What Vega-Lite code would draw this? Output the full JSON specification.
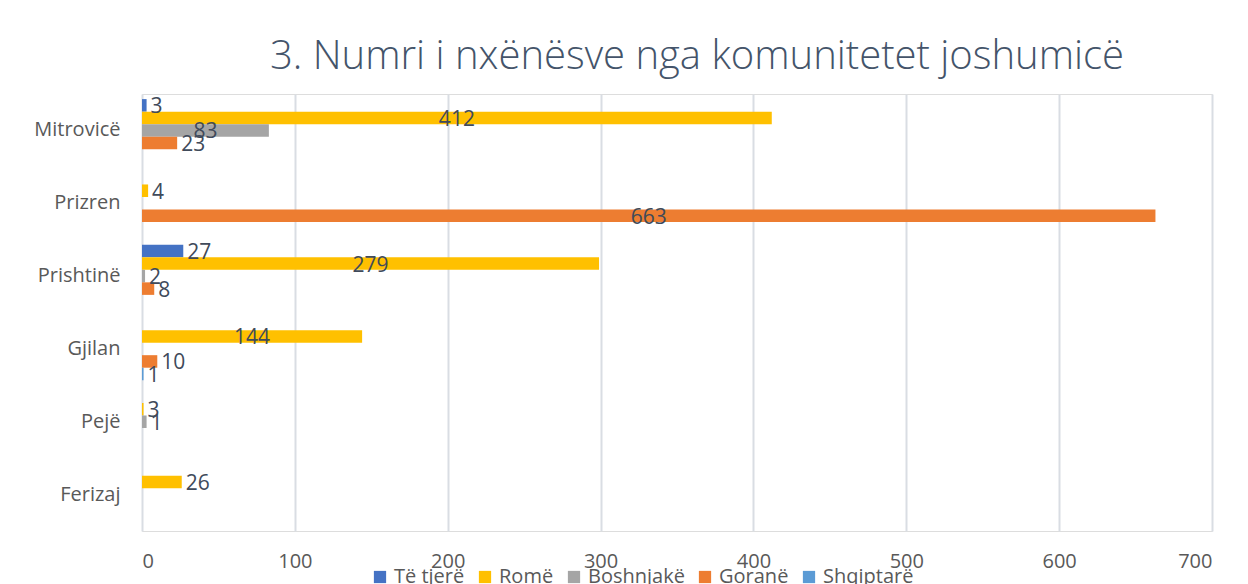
{
  "$schema": "https://vega.github.io/schema/vega-lite/v6.json",
  "width": 1070,
  "height": 437,
  "autosize": {"type": "none"},
  "padding": {"left": 142, "top": 94, "right": 36, "bottom": 53},
  "background": "white",
  "title": {
    "text": "3. Numri i nxënësve nga komunitetet joshumicë",
    "font": "Open Sans",
    "fontSize": 40,
    "fontWeight": 300,
    "color": "#44546a",
    "anchor": "middle",
    "dx": 20,
    "offset": 17
  },
  "data": {
    "values": [
      {"city": "Mitrovicë", "series": "Të tjerë", "value": 3, "label": "3"},
      {"city": "Mitrovicë", "series": "Romë", "value": 412, "label": "412"},
      {"city": "Mitrovicë", "series": "Boshnjakë", "value": 83, "label": "83"},
      {"city": "Mitrovicë", "series": "Goranë", "value": 23, "label": "23"},
      {"city": "Prizren", "series": "Romë", "value": 4, "label": "4"},
      {"city": "Prizren", "series": "Goranë", "value": 663, "label": "663"},
      {"city": "Prishtinë", "series": "Të tjerë", "value": 27, "label": "27"},
      {"city": "Prishtinë", "series": "Romë", "value": 299, "label": "279"},
      {"city": "Prishtinë", "series": "Boshnjakë", "value": 2, "label": "2"},
      {"city": "Prishtinë", "series": "Goranë", "value": 8, "label": "8"},
      {"city": "Gjilan", "series": "Romë", "value": 144, "label": "144"},
      {"city": "Gjilan", "series": "Goranë", "value": 10, "label": "10"},
      {"city": "Gjilan", "series": "Shqiptarë", "value": 1, "label": "1"},
      {"city": "Pejë", "series": "Romë", "value": 1, "label": "3"},
      {"city": "Pejë", "series": "Boshnjakë", "value": 3, "label": "1"},
      {"city": "Ferizaj", "series": "Romë", "value": 26, "label": "26"}
    ]
  },
  "encoding": {
    "y": {
      "field": "city",
      "type": "nominal",
      "sort": ["Mitrovicë", "Prizren", "Prishtinë", "Gjilan", "Pejë", "Ferizaj"],
      "scale": {"paddingInner": 0.14, "paddingOuter": 0.07},
      "axis": {
        "title": null,
        "domain": false,
        "ticks": false,
        "labelPadding": 22,
        "labelFont": "Open Sans",
        "labelFontSize": 20,
        "labelColor": "#595959"
      }
    },
    "yOffset": {
      "field": "series",
      "type": "nominal",
      "sort": ["Të tjerë", "Romë", "Boshnjakë", "Goranë", "Shqiptarë"],
      "scale": {"domain": ["Të tjerë", "Romë", "Boshnjakë", "Goranë", "Shqiptarë"], "paddingInner": 0, "paddingOuter": 0}
    }
  },
  "layer": [
    {
      "mark": {"type": "bar"},
      "encoding": {
        "x": {
          "field": "value",
          "type": "quantitative",
          "scale": {"domain": [0, 700], "nice": false},
          "axis": {
            "title": null,
            "values": [0, 100, 200, 300, 400, 500, 600, 700],
            "domain": false,
            "ticks": false,
            "grid": true,
            "gridColor": "#d9dde3",
            "gridWidth": 2,
            "labelPadding": 20,
            "labelFont": "Open Sans",
            "labelFontSize": 20,
            "labelColor": "#595959"
          }
        },
        "color": {
          "field": "series",
          "type": "nominal",
          "scale": {
            "domain": ["Të tjerë", "Romë", "Boshnjakë", "Goranë", "Shqiptarë"],
            "range": ["#4472c4", "#ffc000", "#a5a5a5", "#ed7d31", "#5b9bd5"]
          },
          "legend": {
            "title": null,
            "orient": "none",
            "direction": "horizontal",
            "legendX": 228,
            "legendY": 473,
            "symbolType": "square",
            "symbolSize": 150,
            "symbolStrokeWidth": 0,
            "labelFont": "Open Sans",
            "labelFontSize": 20,
            "labelColor": "#595959",
            "columnPadding": 10,
            "labelOffset": 4
          }
        }
      }
    },
    {
      "transform": [{"filter": "datum.value >= 80"}],
      "mark": {"type": "text", "align": "center", "baseline": "middle", "dy": 2, "font": "Open Sans", "fontSize": 21, "color": "#404a5a"},
      "encoding": {
        "x": {"field": "value", "type": "quantitative", "scale": {"domain": [0, 1400], "nice": false}, "axis": null},
        "text": {"field": "label", "type": "nominal"}
      }
    },
    {
      "transform": [{"filter": "datum.value < 80"}],
      "mark": {"type": "text", "align": "left", "baseline": "middle", "dx": 4, "dy": 2, "font": "Open Sans", "fontSize": 21, "color": "#404a5a"},
      "encoding": {
        "x": {"field": "value", "type": "quantitative", "scale": {"domain": [0, 700], "nice": false}, "axis": null},
        "text": {"field": "label", "type": "nominal"}
      }
    }
  ],
  "resolve": {"scale": {"x": "independent"}}
}
